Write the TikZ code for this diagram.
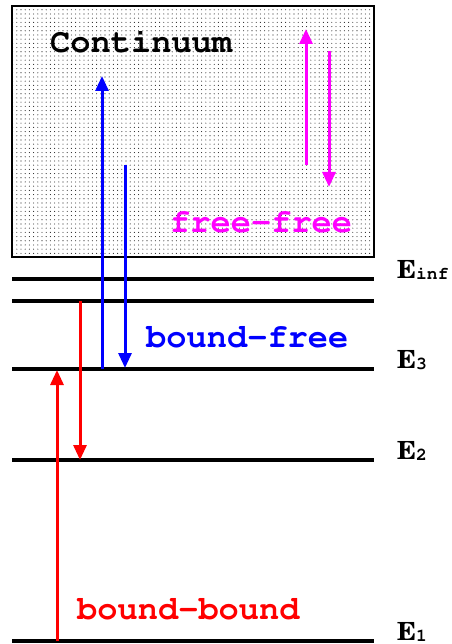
\documentclass[tikz,border=0pt]{standalone}
\usepackage[T1]{fontenc}
\usepackage{fontspec}
\setmainfont{Liberation Serif}
\usetikzlibrary{arrows.meta,patterns.meta}

\definecolor{ffcol}{RGB}{255,0,255}
\definecolor{bfcol}{RGB}{0,0,255}
\definecolor{bbcol}{RGB}{255,0,0}

% Courier and Century Schoolbook from the PostScript font set
\newcommand{\courfont}{\fontencoding{T1}\fontfamily{pcr}\selectfont}
\newcommand{\schoolfont}{\fontencoding{T1}\fontfamily{pnc}\selectfont}

\newcommand{\levlabel}[1]{{\schoolfont\fontseries{b}\fontsize{25}{25}\selectfont E}\raisebox{-1pt}{\courfont\fontseries{b}\fontsize{18}{18}\selectfont #1}}

\tikzset{
  level/.style={line width=3.5pt},
  trans/.style={line width=3pt,-{Triangle[width=13pt,length=15pt]}},
  bigtext/.style={inner sep=0pt,anchor=base west,font=\courfont\fontseries{b}\fontsize{33.7}{36}\selectfont},
  elabel/.style={inner sep=0pt,anchor=base west},
}

\begin{document}
\begin{tikzpicture}[x=1pt,y=-1pt]
\useasboundingbox (0,0) rectangle (451,644);

% continuum region
\fill[white] (12,6) rectangle (374,257);
\fill[pattern={Dots[distance=4.2pt,radius=0.55pt]},pattern color=black!85] (12,6) rectangle (374,257);
\draw[line width=1.3pt] (12,6) rectangle (374,257);

% energy levels
\coordinate (Li0) at (12,279);  \coordinate (Li1) at (374,279);
\coordinate (Lb0) at (12,301);  \coordinate (Lb1) at (374,301);
\coordinate (L30) at (12,369);  \coordinate (L31) at (374,369);
\coordinate (L20) at (12,460);  \coordinate (L21) at (374,460);
\coordinate (L10) at (12,641);  \coordinate (L11) at (374,641);
\draw[level] (Li0) -- (Li1);
\draw[level] (Lb0) -- (Lb1);
\draw[level] (L30) -- (L31);
\draw[level] (L20) -- (L21);
\draw[level] (L10) -- (L11);

% level labels
\node[elabel] (einf) at (397,278) {\levlabel{inf}};
\node[elabel] (e3) at (397,368) {\levlabel{3}};
\node[elabel] (e2) at (397,459) {\levlabel{2}};
\node[elabel] (e1) at (397,640) {\levlabel{1}};

% process labels
\node[bigtext] (cont) at (50,53) {Continuum};
\node[bigtext,text=ffcol] (ff) at (170,232) {free-free};
\node[bigtext,text=bfcol] (bf) at (146,347) {bound-free};
\node[bigtext,text=bbcol] (bb) at (77,619) {bound-bound};

% free-free transitions
\coordinate (ffu0) at (306,165); \coordinate (ffu1) at (306,29);
\coordinate (ffd0) at (329,51);  \coordinate (ffd1) at (329,187);
\draw[trans,ffcol] (ffu0) -- (ffu1);
\draw[trans,ffcol] (ffd0) -- (ffd1);

% bound-free transitions
\coordinate (bfu0) at (102,369); \coordinate (bfu1) at (102,76);
\coordinate (bfd0) at (125,165); \coordinate (bfd1) at (125,368);
\draw[trans,bfcol] (bfu0) -- (bfu1);
\draw[trans,bfcol] (bfd0) -- (bfd1);

% bound-bound transitions
\coordinate (bbu0) at (57,641); \coordinate (bbu1) at (57,370);
\coordinate (bbd0) at (80,301); \coordinate (bbd1) at (80,460);
\draw[trans,bbcol] (bbu0) -- (bbu1);
\draw[trans,bbcol] (bbd0) -- (bbd1);
\end{tikzpicture}
\end{document}
